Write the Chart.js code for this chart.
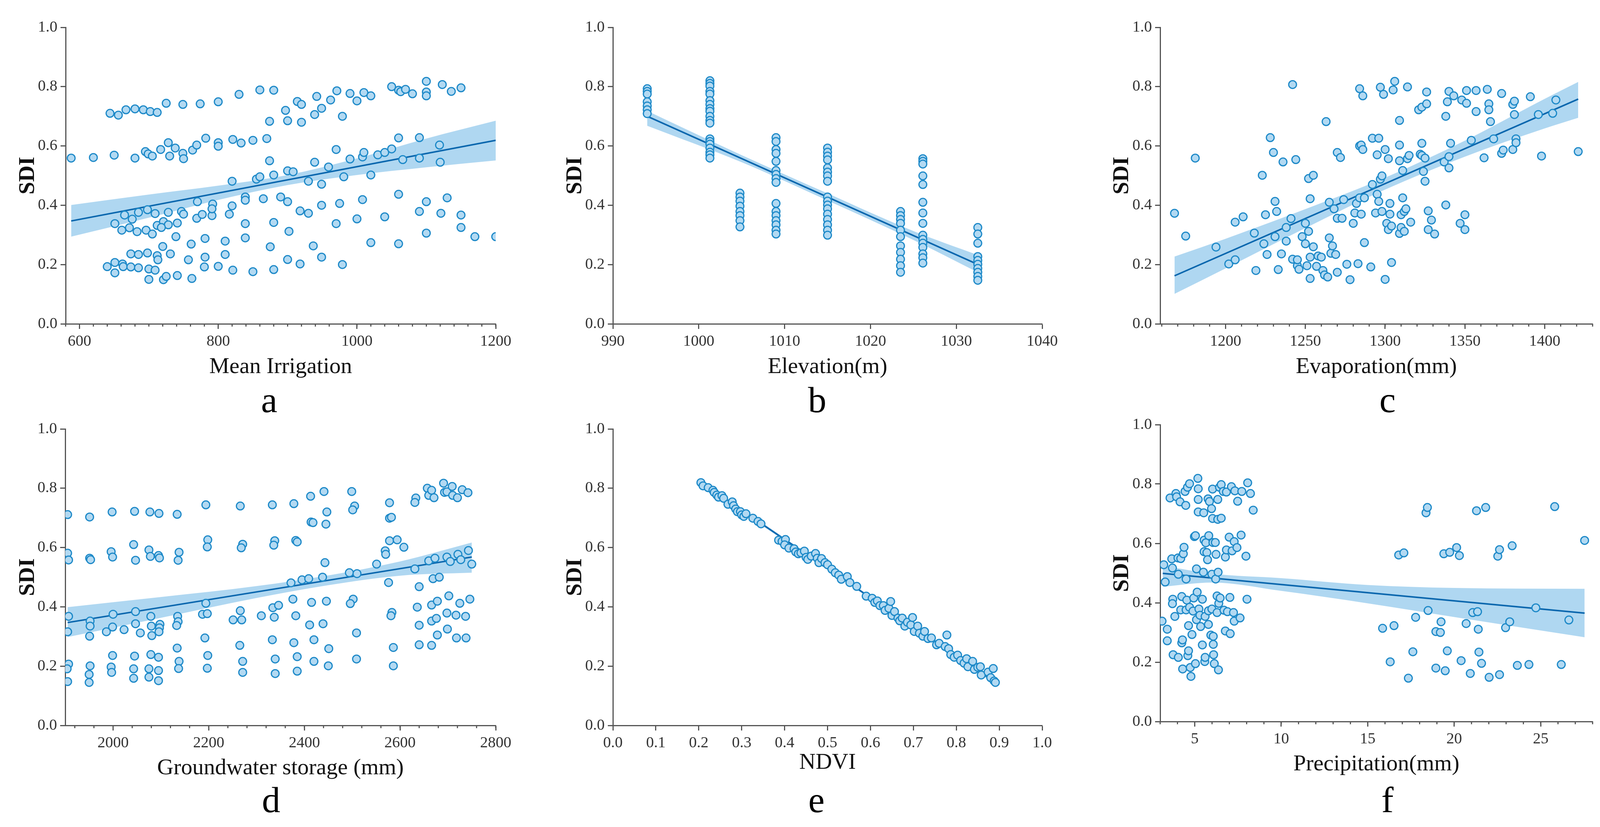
<!DOCTYPE html>
<html>
<head>
<meta charset="utf-8">
<script src="https://cdn.jsdelivr.net/npm/chart.js@4.4.1/dist/chart.umd.min.js"></script>
<style>
  html, body { margin: 0; padding: 0; background: #fff; }
  body { width: 4102px; height: 2117px; position: relative; overflow: hidden; }
  canvas { position: absolute; }
  .tag { position: absolute; width: 200px; text-align: center; font: 94px/94px "Liberation Serif", serif; color: #000; z-index: 2; }
</style>
</head>
<body>
<canvas id="panelA"></canvas>
<canvas id="panelB"></canvas>
<canvas id="panelC"></canvas>
<canvas id="panelD"></canvas>
<canvas id="panelE"></canvas>
<canvas id="panelF"></canvas>
<div class="tag" style="left:589px;top:976px">a</div>
<div class="tag" style="left:1992px;top:976px">b</div>
<div class="tag" style="left:3452px;top:976px">c</div>
<div class="tag" style="left:594px;top:2000px">d</div>
<div class="tag" style="left:1990px;top:2000px">e</div>
<div class="tag" style="left:3452px;top:2000px">f</div>
<script>
const sdiTicks = [0, 0.2, 0.4, 0.6, 0.8, 1.0];

// a: mean irrigation
const irrigationX = [
  644,656,667,680,692,702,712,725,749,774,800,830,860,880,874,897,900,914,920,920,939,942,949,962,971,979,990,1000,1010,1020,1050,1060,1063,1070,1080,1100,1100,1100,1123,1136,1150,
  588,620,650,680,695,699,705,717,728,730,738,749,750,763,769,782,800,800,821,833,850,870,874,970,990,1008,1010,1030,1040,1050,1060,1066,1090,1090,1119,1120,
  820,855,860,880,900,908,930,939,949,959,981,1020,
  651,665,676,661,672,685,683,698,709,696,705,712,721,728,728,718,741,739,747,750,770,769,777,791,792,791,816,820,839,839,839,865,880,890,900,902,918,930,949,970,975,1000,1008,1040,1060,1090,1100,1121,1130,1150,1150,1170,1200,1100,1020,1060,
  640,651,651,662,663,674,674,685,685,698,700,700,709,712,713,720,721,725,731,741,757,761,762,781,781,780,800,810,810,821,839,850,875,880,900,918,937,949,979];
const irrigationSDI = [
  0.710,0.704,0.722,0.725,0.722,0.716,0.713,0.744,0.740,0.742,0.749,0.774,0.789,0.788,0.683,0.720,0.685,0.750,0.740,0.680,0.706,0.767,0.727,0.755,0.786,0.700,0.777,0.752,0.780,0.769,0.800,0.788,0.783,0.791,0.776,0.818,0.782,0.769,0.807,0.784,0.796,
  0.559,0.561,0.569,0.559,0.581,0.573,0.566,0.588,0.611,0.566,0.593,0.575,0.557,0.586,0.603,0.626,0.611,0.599,0.622,0.610,0.619,0.625,0.550,0.588,0.556,0.563,0.578,0.570,0.578,0.590,0.627,0.554,0.628,0.559,0.603,0.545,
  0.481,0.488,0.496,0.502,0.516,0.513,0.481,0.545,0.471,0.529,0.496,0.502,
  0.338,0.367,0.353,0.316,0.324,0.376,0.311,0.385,0.372,0.316,0.303,0.332,0.345,0.376,0.334,0.325,0.340,0.294,0.379,0.370,0.412,0.356,0.369,0.365,0.404,0.388,0.370,0.398,0.428,0.417,0.338,0.422,0.342,0.428,0.412,0.312,0.381,0.373,0.400,0.338,0.406,0.354,0.419,0.361,0.437,0.379,0.412,0.373,0.425,0.367,0.325,0.294,0.294,0.306,0.274,0.270,
  0.193,0.207,0.172,0.202,0.193,0.236,0.192,0.234,0.189,0.239,0.185,0.150,0.181,0.230,0.216,0.261,0.149,0.160,0.236,0.163,0.216,0.269,0.153,0.288,0.225,0.192,0.194,0.279,0.234,0.181,0.290,0.176,0.260,0.183,0.217,0.202,0.263,0.225,0.200];
const irrigationFitX = [588, 1200];
const irrigationFitY = [0.347, 0.619];
const irrigationBandX = [588, 700, 800, 900, 1000, 1100, 1200];
const irrigationBandHi = [0.401, 0.436, 0.466, 0.502, 0.558, 0.625, 0.685];
const irrigationBandLo = [0.294, 0.358, 0.418, 0.468, 0.502, 0.528, 0.551];
const irrigationTicks = [600, 800, 1000, 1200];

// b: elevation (points stacked in columns)
const elevationLevels = [994, 1001.3, 1004.8, 1009, 1015, 1023.5, 1026.1, 1032.5];
const elevationSDI = [
  [0.793,0.784,0.775,0.749,0.735,0.722,0.709],
  [0.820,0.811,0.802,0.784,0.775,0.753,0.740,0.726,0.717,0.700,0.686,0.677,0.624,0.615,0.606,0.593,0.579,0.570,0.559],
  [0.441,0.428,0.414,0.397,0.379,0.365,0.348,0.327],
  [0.628,0.615,0.588,0.575,0.548,0.517,0.504,0.490,0.477,0.406,0.379,0.365,0.348,0.334,0.316,0.303],
  [0.593,0.579,0.566,0.553,0.526,0.512,0.499,0.481,0.428,0.414,0.401,0.388,0.370,0.352,0.334,0.316,0.299],
  [0.379,0.365,0.352,0.339,0.316,0.294,0.263,0.241,0.218,0.196,0.174],
  [0.557,0.548,0.539,0.499,0.470,0.410,0.374,0.339,0.299,0.285,0.272,0.258,0.236,0.223,0.205],
  [0.325,0.303,0.272,0.227,0.214,0.201,0.187,0.174,0.160,0.147]];
const elevationFitX = [994, 1032.5];
const elevationFitY = [0.700, 0.2005];
const elevationBandX = [994, 1005, 1015, 1025, 1032.5];
const elevationBandHi = [0.718, 0.569, 0.440, 0.313, 0.232];
const elevationBandLo = [0.668, 0.545, 0.416, 0.283, 0.174];
const elevationTicks = [990, 1000, 1010, 1020, 1030, 1040];

// c: evaporation
const evaporationX = [
  1168,1175,1181,1194,1202,1206,1206,1211,1218,1219,
  1223,1224,1225,1226,1228,1230,1231,1231,1232,1233,
  1235,1236,1238,1238,1241,1242,1242,1244,1245,1245,
  1246,1248,1250,1250,1251,1252,1252,1253,1253,1253,
  1255,1255,1257,1258,1260,1261,1262,1263,1264,1265,
  1265,1266,1267,1268,1269,1270,1270,1270,1272,1273,
  1274,1276,1278,1280,1281,1282,1283,1284,1284,1284,
  1285,1285,1286,1286,1287,1287,1291,1292,1292,1294,
  1295,1295,1296,1296,1297,1297,1298,1298,1299,1300,
  1300,1301,1302,1302,1303,1303,1304,1304,1305,1306,
  1309,1309,1309,1309,1310,1310,1311,1311,1312,1312,
  1313,1314,1314,1315,1316,1321,1322,1323,1323,1323,
  1324,1325,1325,1326,1326,1327,1327,1329,1331,1337,
  1338,1338,1339,1340,1340,1340,1341,1343,1347,1348,
  1350,1350,1351,1351,1354,1357,1357,1362,1364,1365,
  1365,1366,1368,1373,1373,1374,1380,1380,1381,1381,
  1382,1382,1391,1396,1398,1405,1407,1421];
const evaporationSDI = [
  0.373,0.296,0.559,0.259,0.202,0.343,0.216,0.361,0.306,0.180,
  0.501,0.270,0.368,0.234,0.628,0.578,0.413,0.294,0.379,0.183,
  0.236,0.546,0.279,0.325,0.355,0.807,0.218,0.554,0.196,0.216,
  0.184,0.294,0.339,0.270,0.196,0.490,0.312,0.422,0.225,0.153,
  0.501,0.260,0.194,0.229,0.225,0.180,0.165,0.682,0.158,0.290,
  0.410,0.238,0.263,0.388,0.234,0.578,0.356,0.174,0.561,0.356,
  0.419,0.201,0.149,0.339,0.374,0.406,0.203,0.793,0.600,0.425,
  0.370,0.603,0.769,0.588,0.274,0.425,0.192,0.470,0.626,0.374,
  0.570,0.437,0.626,0.413,0.488,0.798,0.379,0.499,0.774,0.588,
  0.150,0.339,0.318,0.557,0.406,0.370,0.330,0.207,0.789,0.818,
  0.305,0.603,0.686,0.550,0.325,0.368,0.517,0.425,0.379,0.312,
  0.388,0.799,0.557,0.568,0.343,0.722,0.572,0.731,0.568,0.609,
  0.514,0.559,0.481,0.782,0.742,0.381,0.318,0.350,0.303,0.546,
  0.700,0.401,0.749,0.526,0.564,0.784,0.609,0.769,0.339,0.755,
  0.318,0.368,0.787,0.744,0.619,0.716,0.787,0.560,0.791,0.742,
  0.722,0.682,0.624,0.777,0.575,0.586,0.740,0.588,0.706,0.751,
  0.624,0.611,0.766,0.706,0.566,0.710,0.755,0.581];
const evaporationFitX = [1168, 1421];
const evaporationFitY = [0.162, 0.758];
const evaporationBandX = [1168, 1200, 1250, 1300, 1350, 1400, 1421];
const evaporationBandHi = [0.227, 0.287, 0.387, 0.493, 0.618, 0.759, 0.816];
const evaporationBandLo = [0.101, 0.187, 0.323, 0.453, 0.564, 0.659, 0.695];
const evaporationTicks = [1200, 1250, 1300, 1350, 1400];

// d: groundwater storage
const groundwaterX = [
  1905,1905,1907,1907,1905,1907,1904,1905,
  1951,1951,1953,1952,1952,1951,1952,1950,1950,
  1998,1996,1999,2000,1999,1986,1999,1996,1997,2023,
  2045,2043,2047,2047,2047,2057,2045,2043,2043,
  2077,2075,2078,2079,2080,2081,2079,2075,2075,
  2096,2095,2097,2098,2097,2096,2095,2095,2095,
  2134,2138,2136,2135,2136,2133,2134,2138,2137,
  2194,2198,2197,2194,2187,2197,2192,2198,2197,2251,
  2266,2271,2268,2266,2269,2265,2271,2271,2310,
  2333,2338,2336,2334,2346,2337,2333,2339,2339,
  2378,2382,2385,2372,2376,2382,2378,2385,2385,2395,2409,
  2413,2414,2418,2415,2411,2420,2420,
  2441,2438,2443,2447,2445,2446,2439,2451,2450,
  2499,2505,2501,2494,2510,2502,2496,2509,2509,
  2551,2569,2570,2576,2578,2578,2582,2578,2594,2608,2583,2581,2586,2586,
  2633,2631,2631,2640,2636,2640,2640,
  2657,2660,2660,2666,2671,2666,2666,2666,2669,2673,2676,2678,2678,2682,
  2691,2693,2698,2698,2702,2698,2699,2705,2709,2710,
  2720,2721,2725,2717,2718,2730,2727,2737,2738,2742,2743,2746,2750];
const groundwaterSDI = [
  0.711,0.581,0.558,0.368,0.316,0.207,0.191,0.148,
  0.703,0.564,0.559,0.352,0.335,0.301,0.201,0.172,0.145,
  0.720,0.586,0.568,0.375,0.332,0.316,0.236,0.197,0.179,0.323,
  0.722,0.610,0.557,0.384,0.343,0.312,0.234,0.191,0.159,
  0.720,0.592,0.570,0.368,0.335,0.303,0.239,0.191,0.163,
  0.715,0.573,0.565,0.341,0.329,0.316,0.230,0.185,0.151,
  0.712,0.584,0.557,0.368,0.350,0.337,0.261,0.216,0.192,
  0.744,0.626,0.602,0.412,0.375,0.377,0.295,0.236,0.193,0.356,
  0.740,0.611,0.599,0.387,0.356,0.270,0.216,0.179,0.370,
  0.744,0.623,0.608,0.397,0.405,0.365,0.289,0.224,0.175,
  0.748,0.624,0.619,0.481,0.426,0.370,0.279,0.232,0.183,0.491,0.495,
  0.773,0.686,0.684,0.415,0.339,0.289,0.216,
  0.789,0.500,0.549,0.720,0.679,0.419,0.343,0.259,0.201,
  0.789,0.740,0.727,0.515,0.512,0.426,0.411,0.312,0.224,
  0.544,0.589,0.577,0.482,0.751,0.699,0.702,0.623,0.626,0.601,0.381,0.370,0.263,0.201,
  0.767,0.752,0.528,0.468,0.399,0.338,0.272,
  0.800,0.776,0.555,0.793,0.768,0.406,0.352,0.270,0.495,0.564,0.361,0.419,0.305,0.500,
  0.817,0.786,0.788,0.568,0.437,0.379,0.325,0.553,0.806,0.776,
  0.768,0.577,0.412,0.372,0.295,0.795,0.559,0.368,0.295,0.785,0.590,0.426,0.544];
const groundwaterFitX = [1905, 2750];
const groundwaterFitY = [0.347, 0.568];
const groundwaterBandX = [1905, 2100, 2300, 2450, 2600, 2750];
const groundwaterBandHi = [0.399, 0.433, 0.470, 0.506, 0.553, 0.617];
const groundwaterBandLo = [0.298, 0.363, 0.430, 0.473, 0.505, 0.515];
const groundwaterTicks = [2000, 2200, 2400, 2600, 2800];

// e: NDVI
const ndviX = [
  0.205,0.210,0.222,0.233,0.236,0.242,0.246,0.254,0.258,0.268,
  0.278,0.281,0.286,0.290,0.297,0.300,0.305,0.310,0.326,0.338,
  0.345,0.386,0.394,0.402,0.400,0.410,0.422,0.426,0.432,0.438,
  0.446,0.450,0.454,0.462,0.472,0.476,0.480,0.486,0.494,0.500,
  0.510,0.518,0.526,0.532,0.546,0.552,0.568,0.590,0.604,0.610,
  0.616,0.622,0.630,0.634,0.643,0.647,0.650,0.656,0.664,0.668,
  0.674,0.680,0.686,0.694,0.698,0.702,0.710,0.714,0.722,0.726,
  0.734,0.742,0.754,0.760,0.778,0.774,0.782,0.787,0.795,0.803,
  0.810,0.818,0.824,0.827,0.838,0.842,0.850,0.858,0.856,0.874,
  0.880,0.886,0.888,0.891];
const ndviSDI = [
  0.819,0.808,0.802,0.793,0.786,0.777,0.770,0.775,0.766,0.746,
  0.754,0.741,0.730,0.721,0.721,0.710,0.705,0.714,0.699,0.688,
  0.680,0.625,0.621,0.627,0.609,0.598,0.596,0.585,0.579,0.582,
  0.588,0.567,0.560,0.571,0.580,0.564,0.549,0.563,0.549,0.542,
  0.527,0.515,0.507,0.493,0.502,0.482,0.469,0.436,0.429,0.415,
  0.420,0.404,0.404,0.388,0.395,0.418,0.371,0.384,0.362,0.353,
  0.362,0.335,0.348,0.339,0.364,0.317,0.335,0.311,0.301,0.317,
  0.293,0.295,0.272,0.277,0.305,0.266,0.259,0.239,0.230,0.237,
  0.219,0.210,0.225,0.198,0.216,0.189,0.196,0.170,0.198,0.180,
  0.161,0.192,0.150,0.145];
const ndviFitX = [0.205, 0.891];
const ndviFitY = [0.819, 0.145];
const ndviBandX = [0.205, 0.55, 0.891];
const ndviBandHi = [0.825, 0.484, 0.152];
const ndviBandLo = [0.813, 0.476, 0.138];
const ndviTicks = [0, 0.1, 0.2, 0.3, 0.4, 0.5, 0.6, 0.7, 0.8, 0.9, 1.0];

// f: precipitation
const precipX = [
  3.11,3.21,3.29,3.41,3.41,3.57,3.67,3.71,3.73,3.71,
  3.75,3.85,3.91,3.95,4.03,4.05,4.15,4.19,4.19,4.05,
  4.25,4.25,4.29,4.30,4.34,4.38,4.44,4.48,4.50,4.50,
  4.54,4.58,4.60,4.64,4.64,4.70,4.70,4.74,4.78,4.84,
  4.90,4.94,4.98,5.04,5.04,5.10,5.10,5.14,5.18,5.20,
  5.20,5.20,5.24,5.30,5.34,5.44,5.44,5.50,5.52,5.54,
  5.54,5.58,5.60,5.60,5.64,5.70,5.74,5.77,5.79,5.79,
  5.81,5.85,5.93,5.97,5.99,5.99,6.03,6.03,6.05,6.07,
  6.07,6.09,6.13,6.19,6.21,6.23,6.29,6.29,6.33,6.33,
  6.35,6.37,6.39,6.43,6.47,6.53,6.53,6.65,6.69,6.77,
  6.77,6.83,6.83,6.89,6.99,7.03,7.05,7.12,7.16,7.24,
  7.28,7.28,7.32,7.44,7.48,7.62,7.68,7.72,7.96,8.02,
  8.06,8.22,8.38,
  15.86,16.30,16.52,16.79,17.09,17.35,17.61,17.77,18.37,18.45,
  18.49,18.94,18.94,19.20,19.24,19.40,19.48,19.60,19.74,20.14,
  20.30,20.40,20.69,20.93,21.07,21.29,21.35,21.39,21.43,21.58,
  21.82,22.02,22.52,22.62,22.62,22.97,23.21,23.35,23.65,24.32,
  24.72,25.81,26.19,26.63,27.54];
const precipSDI = [
  0.338,0.528,0.470,0.311,0.272,0.753,0.548,0.517,0.412,0.397,
  0.225,0.354,0.768,0.757,0.551,0.496,0.740,0.376,0.549,0.216,
  0.421,0.265,0.275,0.177,0.565,0.587,0.775,0.728,0.480,0.376,
  0.409,0.789,0.222,0.323,0.238,0.801,0.385,0.182,0.152,0.293,
  0.372,0.416,0.623,0.626,0.195,0.514,0.343,0.436,0.819,0.784,
  0.748,0.706,0.379,0.358,0.320,0.258,0.412,0.503,0.703,0.611,
  0.572,0.202,0.354,0.216,0.602,0.569,0.545,0.750,0.373,0.327,
  0.626,0.741,0.291,0.717,0.496,0.379,0.684,0.783,0.603,0.287,
  0.260,0.225,0.195,0.603,0.480,0.563,0.423,0.367,0.748,0.681,
  0.503,0.174,0.398,0.789,0.416,0.685,0.798,0.775,0.375,0.305,
  0.554,0.578,0.773,0.370,0.621,0.418,0.296,0.791,0.575,0.367,
  0.606,0.338,0.777,0.586,0.742,0.349,0.628,0.775,0.557,0.412,
  0.804,0.768,0.712,
  0.314,0.201,0.323,0.561,0.568,0.146,0.235,0.351,0.703,0.721,
  0.374,0.180,0.303,0.300,0.336,0.565,0.171,0.238,0.570,0.586,
  0.559,0.205,0.330,0.162,0.367,0.710,0.370,0.311,0.234,0.196,
  0.721,0.149,0.557,0.579,0.158,0.316,0.336,0.592,0.189,0.192,
  0.383,0.724,0.192,0.342,0.610];
const precipFitX = [3.15, 27.54];
const precipFitY = [0.499, 0.365];
const precipBandX = [3.15, 6, 10, 15, 20, 27.54];
const precipBandHi = [0.525, 0.498, 0.483, 0.460, 0.450, 0.447];
const precipBandLo = [0.454, 0.468, 0.440, 0.398, 0.352, 0.284];
const precipTicks = [5, 10, 15, 20, 25];

const AXIS = '#555';
const BAND = '#afd7f1';
const DOT_FILL = '#b2d9f2';
const DOT_EDGE = '#1d89c8';
const FIT = '#0b67ae';
const SERIF = "'Liberation Serif', 'Times New Roman', serif";
const TITLE_SIZE = 58;

Chart.defaults.font.family = SERIF;
Chart.defaults.font.size = 40;
Chart.defaults.color = '#333';

const zip = (xs, ys) => xs.map((x, i) => ({ x: x, y: ys[i] }));

// short minor ticks under the x axis
const minorTicks = {
  id: 'minorTicks',
  afterDraw(chart, args, opts) {
    if (!opts.step) return;
    const s = chart.scales.x;
    const ctx = chart.ctx;
    ctx.save();
    ctx.strokeStyle = AXIS;
    ctx.lineWidth = 3;
    const n0 = Math.ceil(s.min / opts.step - 1e-6);
    const n1 = Math.floor(s.max / opts.step + 1e-6);
    for (let n = n0; n <= n1; n++) {
      const px = s.getPixelForValue(n * opts.step);
      ctx.beginPath();
      ctx.moveTo(px, s.top);
      ctx.lineTo(px, s.top + 7);
      ctx.stroke();
    }
    ctx.restore();
  }
};
Chart.register(minorTicks);

function drawPanel(id, p) {
  const cv = p.canvas, area = p.area;
  const el = document.getElementById(id);
  el.width = cv.w;
  el.height = cv.h;
  el.style.left = cv.left + 'px';
  el.style.top = cv.top + 'px';
  el.style.width = cv.w + 'px';
  el.style.height = cv.h + 'px';

  const half = TITLE_SIZE * 1.2 / 2;
  const yAxisW = area.l - cv.left;
  const xAxisH = cv.top + cv.h - area.b;

  return new Chart(el.getContext('2d'), {
    type: 'scatter',
    data: {
      datasets: [
        { type: 'line', data: zip(p.bandX, p.bandHi), borderColor: 'transparent', borderWidth: 0, pointRadius: 0,
          fill: '+1', backgroundColor: BAND, cubicInterpolationMode: 'monotone', order: 3 },
        { type: 'line', data: zip(p.bandX, p.bandLo), borderColor: 'transparent', borderWidth: 0, pointRadius: 0,
          fill: false, cubicInterpolationMode: 'monotone', order: 3 },
        { data: p.points, pointRadius: 10, pointBorderWidth: 3, backgroundColor: DOT_FILL, borderColor: DOT_EDGE, order: 1 },
        { type: 'line', data: zip(p.fitX, p.fitY), borderColor: FIT, borderWidth: 4, pointRadius: 0, fill: false, order: 2 }
      ]
    },
    options: {
      responsive: false,
      animation: false,
      devicePixelRatio: 1,
      layout: { padding: { left: 0, top: area.t - cv.top, right: cv.left + cv.w - area.r, bottom: 0 } },
      plugins: {
        legend: { display: false },
        tooltip: { enabled: false },
        minorTicks: { step: p.minorStep }
      },
      scales: {
        x: {
          type: 'linear',
          min: p.xMin,
          max: p.xMax,
          afterBuildTicks: s => { s.ticks = p.xTicks.map(v => ({ value: v })); },
          afterFit: s => { s.height = xAxisH; },
          grid: { drawOnChartArea: false, drawTicks: true, tickLength: 13, tickWidth: 3, tickColor: AXIS },
          border: { display: true, color: AXIS, width: 3 },
          ticks: { autoSkip: false, maxRotation: 0, padding: 8, color: '#333',
                   font: { family: SERIF, size: 40 },
                   callback: v => p.xDigits ? v.toFixed(p.xDigits) : String(v) },
          title: { display: true, text: p.xTitle, color: '#111', font: { family: SERIF, size: TITLE_SIZE },
                   padding: { top: 0, bottom: cv.top + cv.h - p.xTitleY - half } }
        },
        y: {
          min: 0,
          max: 1,
          afterBuildTicks: s => { s.ticks = sdiTicks.map(v => ({ value: v })); },
          afterFit: s => { s.width = yAxisW; },
          grid: { drawOnChartArea: false, drawTicks: true, tickLength: 13, tickWidth: 3, tickColor: AXIS },
          border: { display: true, color: AXIS, width: 3 },
          ticks: { padding: 8, color: '#333', font: { family: SERIF, size: 40 }, callback: v => v.toFixed(1) },
          title: { display: true, text: 'SDI', color: '#111', font: { family: SERIF, size: TITLE_SIZE, weight: 'bold' },
                   padding: { top: p.yTitleX - cv.left - half, bottom: 0 } }
        }
      }
    }
  });
}

const elevationPoints = [];
elevationLevels.forEach((lvl, i) => {
  elevationSDI[i].forEach(v => elevationPoints.push({ x: lvl, y: v }));
});

drawPanel('panelA', {
  canvas: { left: 0, top: 0, w: 1330, h: 1000 }, area: { l: 168, t: 70, r: 1269, b: 829 },
  xTitleY: 940, yTitleX: 72, xMin: 580, xMax: 1200, xTicks: irrigationTicks, minorStep: 20,
  xTitle: 'Mean Irrigation', points: zip(irrigationX, irrigationSDI),
  fitX: irrigationFitX, fitY: irrigationFitY, bandX: irrigationBandX, bandHi: irrigationBandHi, bandLo: irrigationBandLo
});
drawPanel('panelB', {
  canvas: { left: 1340, top: 0, w: 1390, h: 1000 }, area: { l: 1569, t: 70, r: 2668, b: 829 },
  xTitleY: 940, yTitleX: 1473, xMin: 990, xMax: 1040, xTicks: elevationTicks, minorStep: 0,
  xTitle: 'Elevation(m)', points: elevationPoints,
  fitX: elevationFitX, fitY: elevationFitY, bandX: elevationBandX, bandHi: elevationBandHi, bandLo: elevationBandLo
});
drawPanel('panelC', {
  canvas: { left: 2740, top: 0, w: 1362, h: 1000 }, area: { l: 2970, t: 70, r: 4077, b: 829 },
  xTitleY: 940, yTitleX: 2873, xMin: 1159, xMax: 1430, xTicks: evaporationTicks, minorStep: 10,
  xTitle: 'Evaporation(mm)', points: zip(evaporationX, evaporationSDI),
  fitX: evaporationFitX, fitY: evaporationFitY, bandX: evaporationBandX, bandHi: evaporationBandHi, bandLo: evaporationBandLo
});
drawPanel('panelD', {
  canvas: { left: 0, top: 1010, w: 1330, h: 1000 }, area: { l: 167, t: 1098, r: 1269, b: 1857 },
  xTitleY: 1967, yTitleX: 72, xMin: 1900, xMax: 2800, xTicks: groundwaterTicks, minorStep: 40,
  xTitle: 'Groundwater storage (mm)', points: zip(groundwaterX, groundwaterSDI),
  fitX: groundwaterFitX, fitY: groundwaterFitY, bandX: groundwaterBandX, bandHi: groundwaterBandHi, bandLo: groundwaterBandLo
});
drawPanel('panelE', {
  canvas: { left: 1340, top: 1010, w: 1390, h: 1000 }, area: { l: 1569, t: 1098, r: 2668, b: 1857 },
  xTitleY: 1953, yTitleX: 1473, xMin: 0, xMax: 1, xTicks: ndviTicks, minorStep: 0, xDigits: 1,
  xTitle: 'NDVI', points: zip(ndviX, ndviSDI),
  fitX: ndviFitX, fitY: ndviFitY, bandX: ndviBandX, bandHi: ndviBandHi, bandLo: ndviBandLo
});
drawPanel('panelF', {
  canvas: { left: 2740, top: 1010, w: 1362, h: 1000 }, area: { l: 2970, t: 1087, r: 4077, b: 1847 },
  xTitleY: 1957, yTitleX: 2873, xMin: 3, xMax: 28, xTicks: precipTicks, minorStep: 1,
  xTitle: 'Precipitation(mm)', points: zip(precipX, precipSDI),
  fitX: precipFitX, fitY: precipFitY, bandX: precipBandX, bandHi: precipBandHi, bandLo: precipBandLo
});
</script>
</body>
</html>
